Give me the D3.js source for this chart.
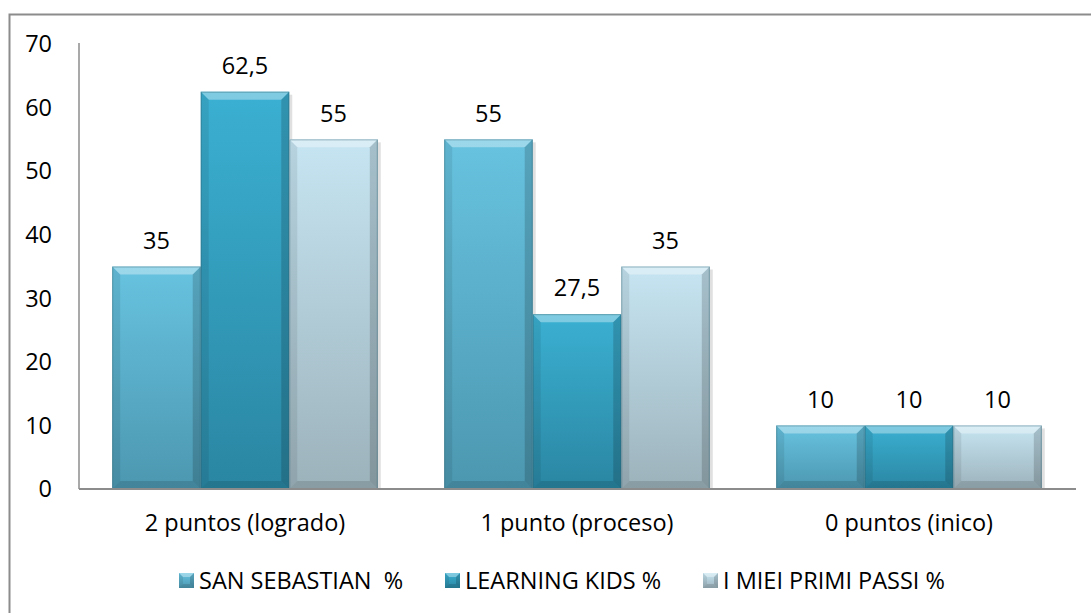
<!DOCTYPE html>
<html>
<head>
<meta charset="utf-8">
<script src="https://cdn.jsdelivr.net/npm/d3@7"></script>
<style>
  body { margin: 0; background: #fff; }
  svg { display: block; font-family: "Open Sans", sans-serif; }
</style>
</head>
<body>
<script>
// categories and series
var categories = ["2 puntos (logrado)", "1 punto (proceso)", "0 puntos (inico)"];
var seriesNames = ["SAN SEBASTIAN  %", "LEARNING KIDS %", "I MIEI PRIMI PASSI %"];
var sanSebastian = [35, 55, 10];
var learningKids = [62.5, 27.5, 10];
var miPrimiPassi = [55, 35, 10];
var yTicks = [0, 10, 20, 30, 40, 50, 60, 70];

var seriesValues = [sanSebastian, learningKids, miPrimiPassi];
var colors = [
    { top: "#67c3e0", bot: "#4c97b0" },
    { top: "#3bb0d2", bot: "#2a86a2" },
    { top: "#c6e5f2", bot: "#9cb2bb" }
];

var w = 1091, h = 613;
var fs = 23.5;
var svg = d3.select("body").append("svg")
    .attr("width", w)
    .attr("height", h);

// chart frame
svg.append("rect")
    .attr("x", 9.5).attr("y", 14.5)
    .attr("width", 1100).attr("height", 620)
    .attr("fill", "#fff")
    .attr("stroke", "#8c8c8c")
    .attr("stroke-width", 2);

var defs = svg.append("defs");
colors.forEach(function (c, i) {
    var g = defs.append("linearGradient")
        .attr("id", "grad" + i)
        .attr("x1", 0).attr("y1", 0).attr("x2", 0).attr("y2", 1);
    g.append("stop").attr("offset", "0%").attr("stop-color", c.top);
    g.append("stop").attr("offset", "100%").attr("stop-color", c.bot);
});

var x0 = d3.scaleBand()
    .domain(categories)
    .range([79, 1075]);

var x1 = d3.scaleBand()
    .domain(d3.range(seriesNames.length))
    .range([0, x0.bandwidth()])
    .paddingOuter(0.375);

var y = d3.scaleLinear()
    .domain([0, 70])
    .range([489, 44]);

// y axis labels
svg.selectAll(".ytick")
    .data(yTicks)
    .enter()
    .append("text")
    .attr("x", 52)
    .attr("y", function (d) { return y(d); })
    .attr("dy", "0.35em")
    .attr("text-anchor", "end")
    .attr("font-size", fs)
    .attr("fill", "#000")
    .text(function (d) { return d; });

// flatten data
var bars = [];
categories.forEach(function (cat, ci) {
    seriesValues.forEach(function (vals, si) {
        bars.push({ cat: cat, s: si, v: vals[ci] });
    });
});

// drop shadow
svg.selectAll(".shadow")
    .data(bars)
    .enter()
    .append("rect")
    .attr("x", function (d) { return x0(d.cat) + x1(d.s) + 3; })
    .attr("y", function (d) { return y(d.v) + 3; })
    .attr("width", x1.bandwidth())
    .attr("height", function (d) { return y(0) - y(d.v) - 3; })
    .attr("fill", "#000")
    .attr("opacity", 0.12);

var bev = 8;
function bevel(g, x, yTop, bw, bh, big) {
    var b = Math.min(big, bh / 2);
    // top highlight
    g.append("path")
        .attr("d", "M" + x + "," + yTop + "L" + (x + bw) + "," + yTop +
            "L" + (x + bw - b) + "," + (yTop + b) + "L" + (x + b) + "," + (yTop + b) + "Z")
        .attr("fill", "#fff").attr("opacity", 0.35);
    // left
    g.append("path")
        .attr("d", "M" + x + "," + yTop + "L" + (x + b) + "," + (yTop + b) +
            "L" + (x + b) + "," + (yTop + bh - b) + "L" + x + "," + (yTop + bh) + "Z")
        .attr("fill", "#000").attr("opacity", 0.08);
    // right
    g.append("path")
        .attr("d", "M" + (x + bw) + "," + yTop + "L" + (x + bw - b) + "," + (yTop + b) +
            "L" + (x + bw - b) + "," + (yTop + bh - b) + "L" + (x + bw) + "," + (yTop + bh) + "Z")
        .attr("fill", "#000").attr("opacity", 0.16);
    // bottom
    g.append("path")
        .attr("d", "M" + x + "," + (yTop + bh) + "L" + (x + b) + "," + (yTop + bh - b) +
            "L" + (x + bw - b) + "," + (yTop + bh - b) + "L" + (x + bw) + "," + (yTop + bh) + "Z")
        .attr("fill", "#000").attr("opacity", 0.12);
}

var barG = svg.selectAll(".bar")
    .data(bars)
    .enter()
    .append("g");

barG.each(function (d) {
    var g = d3.select(this);
    var x = x0(d.cat) + x1(d.s);
    var bw = x1.bandwidth();
    var yTop = y(d.v);
    var bh = y(0) - y(d.v);
    g.append("rect")
        .attr("x", x).attr("y", yTop)
        .attr("width", bw).attr("height", bh)
        .attr("fill", "url(#grad" + d.s + ")");
    bevel(g, x, yTop, bw, bh, bev);
    g.append("rect")
        .attr("x", x + 0.5).attr("y", yTop + 0.5)
        .attr("width", bw - 1).attr("height", bh - 1)
        .attr("fill", "none")
        .attr("stroke", "#2e6677")
        .attr("stroke-opacity", 0.45);
});

// value labels
svg.selectAll(".vlabel")
    .data(bars)
    .enter()
    .append("text")
    .attr("x", function (d) { return x0(d.cat) + x1(d.s) + x1.bandwidth() / 2; })
    .attr("y", function (d) { return y(d.v) - 26; })
    .attr("dy", "0.35em")
    .attr("text-anchor", "middle")
    .attr("font-size", fs)
    .text(function (d) { return String(d.v).replace(".", ","); });

// axes lines
svg.append("line")
    .attr("x1", 79).attr("y1", 43).attr("x2", 79).attr("y2", 489)
    .attr("stroke", "#8c8c8c").attr("stroke-width", 1.5);
svg.append("line")
    .attr("x1", 79).attr("y1", 489).attr("x2", 1076).attr("y2", 489)
    .attr("stroke", "#8c8c8c").attr("stroke-width", 2);

// category labels
svg.selectAll(".clabel")
    .data(categories)
    .enter()
    .append("text")
    .attr("x", function (d) { return x0(d) + x0.bandwidth() / 2; })
    .attr("y", 523)
    .attr("dy", "0.35em")
    .attr("text-anchor", "middle")
    .attr("font-size", fs)
    .text(function (d) { return d; });

// legend
var legendX = [179, 445, 703];
var leg = svg.selectAll(".legend")
    .data(seriesNames)
    .enter()
    .append("g")
    .attr("transform", function (d, i) { return "translate(" + legendX[i] + ",573)"; });

leg.each(function (d, i) {
    var g = d3.select(this);
    g.append("rect")
        .attr("width", 15).attr("height", 15)
        .attr("fill", "url(#grad" + i + ")");
    bevel(g, 0, 0, 15, 15, 4);
});

leg.append("text")
    .attr("x", 20)
    .attr("y", 7.5)
    .attr("dy", "0.35em")
    .attr("font-size", fs)
    .attr("xml:space", "preserve")
    .style("white-space", "pre")
    .text(function (d) { return d; });
</script>
</body>
</html>
